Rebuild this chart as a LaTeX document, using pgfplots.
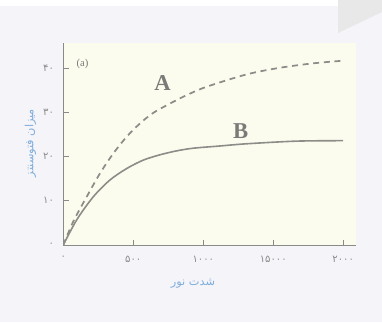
\documentclass[border=0pt]{standalone}
\usepackage{fontspec}
\setmainfont{Liberation Serif}
\newfontfamily\arabicfont[Script=Arabic]{DejaVu Sans}
\newfontfamily\digitfont{DejaVu Sans}
\TeXXeTstate=1
\usepackage{pgfplots}
\pgfplotsset{compat=1.18}

\definecolor{pagebg}{HTML}{F5F4F9}
\definecolor{plotbg}{HTML}{FCFCEE}
\definecolor{curvegrey}{HTML}{8C8C88}
\definecolor{lettergrey}{HTML}{7A7A78}
\definecolor{labelblue}{HTML}{80AEDC}
\definecolor{tickgrey}{HTML}{8A8A8A}

\begin{document}
\begin{tikzpicture}[x=0.75pt,y=0.75pt]
% page: 382x322 px, axis corner sits at px (63.3,245)
\fill[pagebg] (-63.3,-77) rectangle (318.7,245);
\fill[white] (-63.3,239) rectangle (318.7,245);
\fill[black!9] (274.7,245) -- (318.7,245) -- (318.7,233) -- (274.7,212) -- cycle;

\begin{axis}[
    at={(0,0)}, anchor=south west,
    scale only axis,
    width=219.5pt, height=151.5pt,
    xmin=0, xmax=2091,
    ymin=0, ymax=45.7,
    axis x line=bottom, axis y line=left,
    axis line style={-, draw=tickgrey, line width=0.6pt},
    axis background/.style={fill=plotbg},
    xtick={0,500,1000,1500,2000},
    xticklabels={۰,۵۰۰,۱۰۰۰,۱۵۰۰۰,۲۰۰۰},
    ytick={0,10,20,30,40},
    yticklabels={۰,۱۰,۲۰,۳۰,۴۰},
    tick align=inside,
    major tick length=4pt,
    tick style={draw=tickgrey, line width=0.6pt},
    ticklabel style={font=\digitfont\fontsize{7.5}{8}\selectfont, text=tickgrey},
    x tick label style={yshift=-4.5pt},
    y tick label style={xshift=-3.5pt},
    xlabel={\arabicfont\beginR شدت نور\endR},
    ylabel={\arabicfont\beginR میزان فتوسنتز\endR},
    xlabel style={at={(axis description cs:0.443,-0.19)}, anchor=center,
        text=labelblue, font=\fontsize{8.5}{9}\selectfont},
    ylabel style={at={(axis description cs:-0.112,0.505)}, anchor=center,
        text=labelblue, font=\fontsize{8.5}{9}\selectfont},
]
% B: solid curve
\addplot[curvegrey, line width=1.2pt, smooth] coordinates {
    (0,0) (96,5.7) (214,10.9) (333,14.7) (453,17.3) (571,19.2) (690,20.4)
    (810,21.3) (929,21.9) (1119,22.4) (1310,22.9) (1667,23.5) (2000,23.6)
};
% A: dashed curve
\addplot[curvegrey, line width=1.3pt, dash pattern=on 4.5pt off 3.5pt, smooth] coordinates {
    (0,0) (71,5.3) (167,10.9) (262,16.2) (357,20.7) (453,24.5) (548,27.5)
    (643,29.9) (762,32.0) (881,33.9) (1024,35.8) (1310,38.6) (1548,40.1)
    (1786,41.1) (2000,41.7)
};
\node[font=\fontsize{17}{18}\selectfont\bfseries, text=lettergrey] at (axis cs:709,36.7) {A};
\node[font=\fontsize{17}{18}\selectfont\bfseries, text=lettergrey] at (axis cs:1267,25.7) {B};
\node[font=\fontsize{8}{9}\selectfont, text=lettergrey] at (axis cs:137,41) {(a)};
\end{axis}
\end{tikzpicture}
\end{document}
